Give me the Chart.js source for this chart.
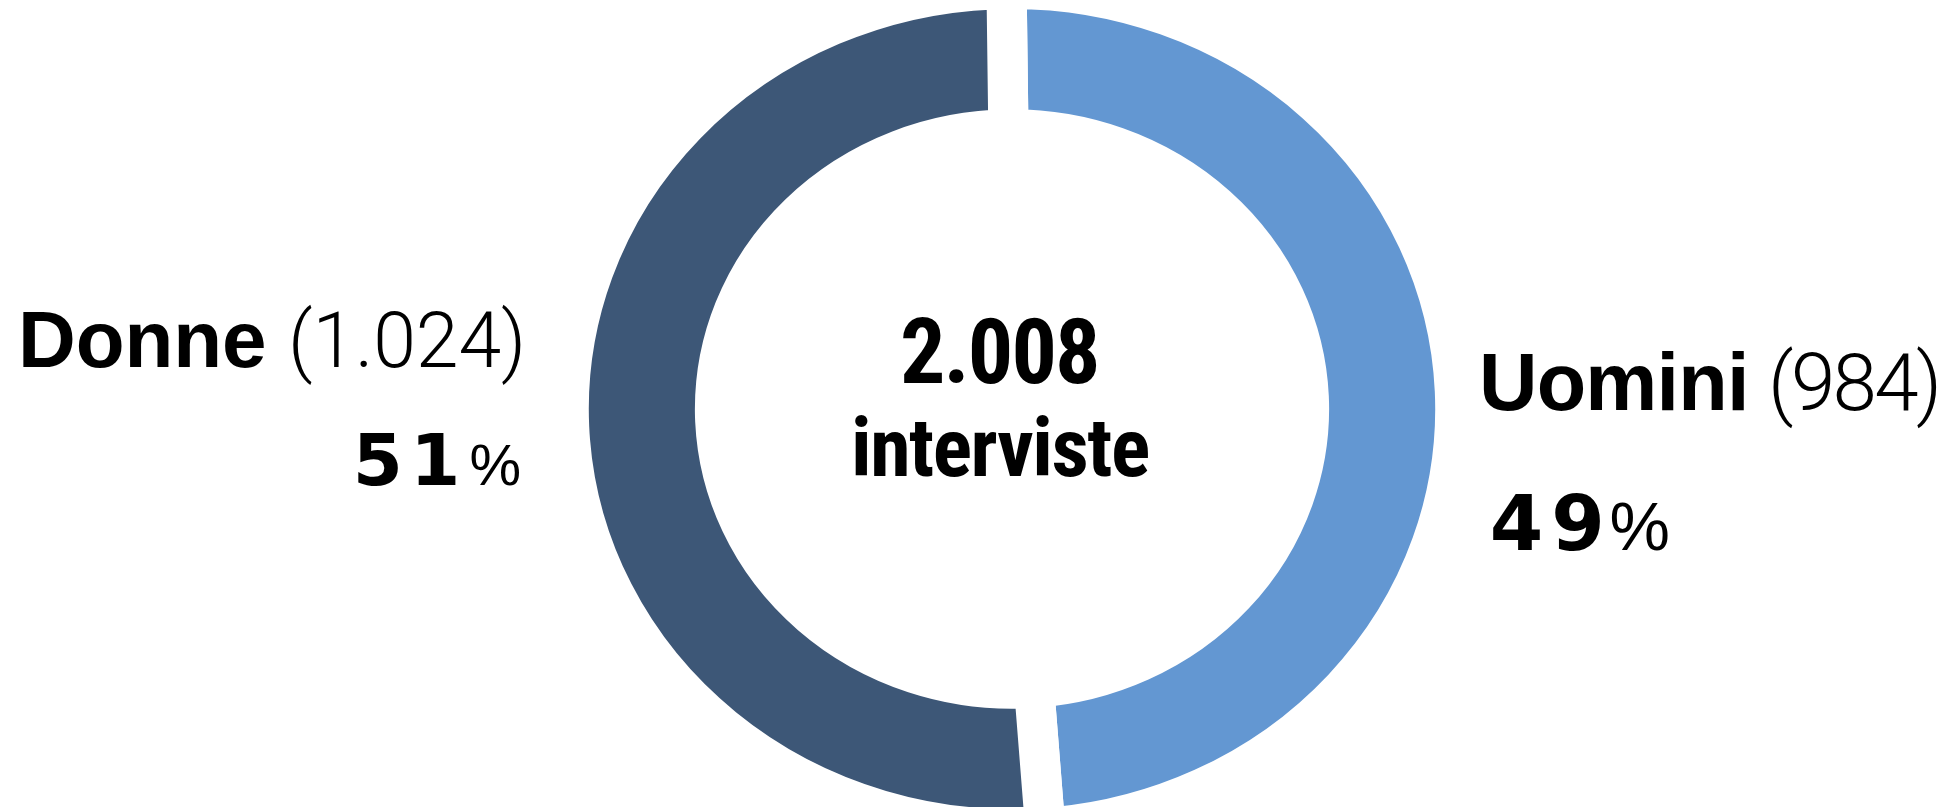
<!DOCTYPE html>
<html lang="it">
<head>
<meta charset="utf-8">
<title>Interviste per genere</title>
<script src="https://cdn.jsdelivr.net/npm/chart.js@4.4.1/dist/chart.umd.min.js"></script>
<style>
  html, body { margin: 0; padding: 0; background: #fff; }
  #wrap { width: 1948px; height: 807px; }
</style>
</head>
<body>
<div id="wrap"><canvas id="genderChart"></canvas></div>
<script>
// respondents split by gender
const labels = ['Uomini', 'Donne'];
const counts = [984, 1024];
const colors = ['#6397d2', '#3d5777'];
const centerCaption = 'interviste';

const total = counts.reduce((a, b) => a + b, 0);
const pct = counts.map(c => Math.round(c / total * 100));

const SANS = '"Liberation Sans", Roboto, sans-serif';
const LIGHT = 'Roboto, sans-serif';
const NARROW = '"Roboto Condensed", Roboto, sans-serif';
const HEAVY = '"DejaVu Sans", sans-serif';

// 1024 -> "1.024"
function fmt(n) {
    return String(n).replace(/\B(?=(\d{3})+(?!\d))/g, '.');
}

// Draws text centred between left and right on baseline y; letter spacing
// is nudged (within 10% of the font size) so the ink gets close to that span
function fitText(ctx, text, weight, family, size, left, right, y) {
    ctx.font = [weight, size + 'px', family].filter(Boolean).join(' ');
    ctx.letterSpacing = '0px';
    ctx.textAlign = 'left';
    ctx.textBaseline = 'alphabetic';
    const m = ctx.measureText(text);
    const ink = m.actualBoundingBoxLeft + m.actualBoundingBoxRight;
    let ls = 0;
    if (text.length > 1) {
        ls = (right - left - ink) / (text.length - 1);
        ls = Math.max(-0.1 * size, Math.min(0.1 * size, ls));
    }
    const width = ink + ls * (text.length - 1);
    ctx.letterSpacing = ls.toFixed(2) + 'px';
    ctx.fillText(text, (left + right) / 2 - width / 2 + m.actualBoundingBoxLeft, y);
    ctx.letterSpacing = '0px';
}

// the ring is a bit wider than it is tall
const stretch = {
    id: 'stretch',
    beforeDatasetsDraw(chart) {
        const {ctx, chartArea} = chart;
        const cx = (chartArea.left + chartArea.right) / 2;
        ctx.save();
        ctx.translate(cx, 0);
        ctx.scale(1.058, 1);
        ctx.translate(-cx, 0);
    },
    afterDatasetsDraw(chart) {
        chart.ctx.restore();
    }
};

// side labels and the total in the middle
const ringLabels = {
    id: 'ringLabels',
    afterDraw(chart) {
        const ctx = chart.ctx;
        ctx.save();
        ctx.fillStyle = '#000';

        // Donne, left
        fitText(ctx, labels[1], 'bold', SANS, 80, 23, 264, 367);
        fitText(ctx, '(' + fmt(counts[1]) + ')', '300', LIGHT, 77, 293, 521, 367);
        fitText(ctx, String(pct[1]), 'bold', HEAVY, 72, 357, 457, 485);
        fitText(ctx, '%', '', SANS, 58, 471, 520, 485);

        // Uomini, right
        fitText(ctx, labels[0], 'bold', SANS, 81, 1483, 1744, 410);
        fitText(ctx, '(' + fmt(counts[0]) + ')', '300', LIGHT, 80, 1773, 1937, 410);
        fitText(ctx, String(pct[0]), 'bold', HEAVY, 77, 1482, 1611, 550);
        fitText(ctx, '%', '', SANS, 68, 1613, 1667, 550);

        // total
        fitText(ctx, fmt(total), 'bold', NARROW, 90, 903, 1097, 383);
        fitText(ctx, centerCaption, 'bold', NARROW, 82, 855, 1148, 476);
        ctx.restore();
    }
};

const chart = new Chart(document.getElementById('genderChart'), {
    type: 'doughnut',
    data: {
        labels: labels,
        datasets: [{
            data: counts,
            backgroundColor: colors,
            borderColor: '#ffffff',
            borderWidth: 38,
            borderJoinStyle: 'miter',
            hoverOffset: 0,
            radius: 419,
            cutout: '67%',
            rotation: -0.7,
            clip: false
        }]
    },
    options: {
        responsive: true,
        maintainAspectRatio: false,
        animation: false,
        events: [],
        layout: { padding: { left: 76, top: 11 } },
        plugins: {
            legend: { display: false },
            tooltip: { enabled: false }
        }
    },
    plugins: [stretch, ringLabels]
});

// repaint once the fonts have settled
setTimeout(() => chart.draw(), 200);
</script>
</body>
</html>
